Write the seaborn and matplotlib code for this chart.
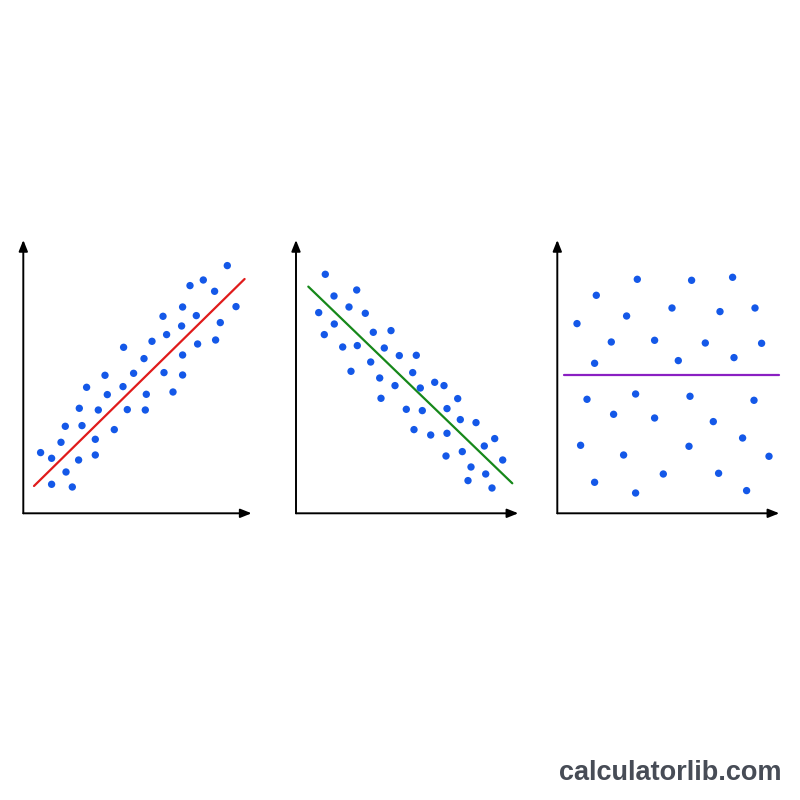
import matplotlib
matplotlib.use("Agg")
import matplotlib.pyplot as plt
import seaborn as sns
import numpy as np
import pandas as pd

sns.set_theme(style="white")
plt.rcParams['font.family'] = ['Liberation Sans', 'DejaVu Sans']

# Panel 1: positive correlation
pos_x = [17.3, 28.3, 28.3, 37.7, 42, 42.7, 49, 55.3, 56, 58.7, 63.3, 72, 72, 75, 81.7, 84, 91,
         99.7, 100.3, 104, 110.3, 120.7, 122, 123, 128.7, 139.7, 140.7, 143.3, 149.7, 158.3,
         159.3, 159.3, 159.3, 166.7, 173, 174.3, 180, 191.3, 192.3, 197, 204, 212.7]
pos_y = [60.7, 55, 29, 71, 87, 41.3, 26.3, 53.3, 105, 87.7, 126, 74, 58.3, 103.3, 138, 118.7, 83.7,
         126.7, 166, 103.7, 140, 154.7, 103.3, 119, 172, 197, 140.7, 178.7, 121.3, 187.3,
         206.3, 158.3, 138.3, 227.7, 197.7, 169.3, 233.3, 222, 173.3, 190.7, 247.7, 206.7]
pos_line_x = [10.7, 221.3]
pos_line_y = [27.3, 234.3]

# Panel 2: negative correlation
neg_x = [29.3, 38, 60.7, 22.7, 53, 69.3, 38.3, 28.3, 77.3, 95, 46.7, 61.3, 88.3, 103.3, 120.3,
         74.7, 55, 116.7, 83.7, 99, 124.3, 138.7, 148, 85, 161.7, 110.3, 126.3, 151, 164.3, 180,
         118, 134.7, 151, 198.7, 188.3, 166.3, 150, 206.7, 175, 189.7, 172, 196]
neg_y = [239, 217.3, 223.3, 200.7, 206.3, 200, 189.3, 178.7, 181, 182.7, 166.3, 167.7, 165.3,
         157.7, 158, 151.3, 142, 140.7, 135.3, 127.7, 125.3, 131, 127.7, 115, 114.7, 104, 102.7,
         104.7, 93.7, 90.7, 83.7, 78.3, 80, 74.7, 67.3, 61.7, 57.3, 53.3, 46.3, 39.3, 32.7, 25.3]
neg_line_x = [12.3, 216.3]
neg_line_y = [226.7, 30]

# Panel 3: no correlation
none_x = [80, 134.3, 175.3, 39, 114.7, 162.7, 197.7, 69.3, 19.7, 54, 97.3, 148, 204.3, 37.3,
          121, 176.7, 29.7, 78.3, 132.7, 196.7, 56.3, 97.3, 156, 23.3, 131.7, 185.3, 66.3,
          211.7, 106, 161.3, 37.3, 78.3, 189.3]
none_y = [234, 233, 236, 218, 205.3, 201.7, 205.3, 197.3, 189.7, 171.3, 173, 170.3, 170, 150,
          152.7, 155.7, 114, 119.3, 117, 113, 99, 95.3, 91.7, 68, 67, 75.3, 58.3, 57, 39.3, 40,
          31, 20.3, 22.7]
none_line_x = [6.7, 221.3]
none_line_y = [138, 138]

panels = [
    (pos_x, pos_y, pos_line_x, pos_line_y, "#e01b1b", 23.3, 228.3),
    (neg_x, neg_y, neg_line_x, neg_line_y, "#16881a", 296.0, 222.3),
    (none_x, none_y, none_line_x, none_line_y, "#8a1fc2", 557.3, 222.0),
]

W, H = 800, 800
fig = plt.figure(figsize=(8, 8), dpi=100)
fig.patch.set_facecolor("white")

for xs, ys, lx, ly, lc, ox, xend in panels:
    ax = fig.add_axes([ox / W, (H - 513.3) / H, 232 / W, 276 / H])
    ax.set_xlim(0, 232)
    ax.set_ylim(0, 276)
    ax.set_axis_off()
    ax.annotate("", xy=(xend, 0), xytext=(0, 0),
                arrowprops=dict(arrowstyle="-|>,head_length=0.55,head_width=0.22",
                                color="black", lw=1.4, shrinkA=0, shrinkB=0),
                annotation_clip=False)
    ax.annotate("", xy=(0, 273.3), xytext=(0, 0),
                arrowprops=dict(arrowstyle="-|>,head_length=0.55,head_width=0.22",
                                color="black", lw=1.4, shrinkA=0, shrinkB=0),
                annotation_clip=False)
    sns.lineplot(x=lx, y=ly, ax=ax, color=lc, linewidth=1.6, zorder=2)
    sns.scatterplot(x=xs, y=ys, ax=ax, color="#1458e8", s=28, edgecolor="none",
                    linewidth=0, zorder=3)

fig.text(782 / W, 1 - 773 / H, "calculatorlib.com", ha="right", va="center",
         fontsize=19.5, fontweight="bold", color="#474c56")

fig.savefig("out.png", dpi=100, facecolor="white")
